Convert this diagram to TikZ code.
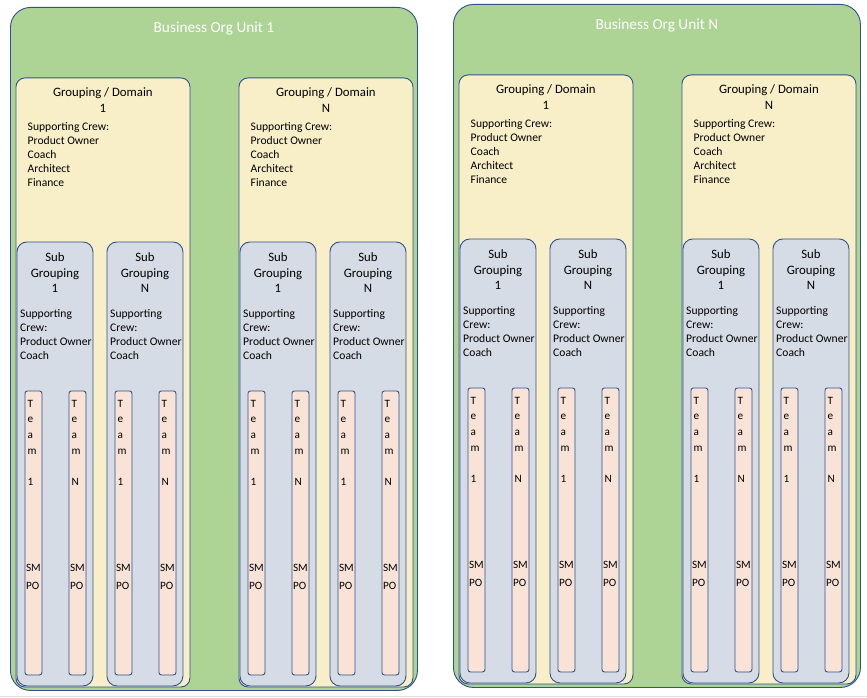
\documentclass[tikz,border=0pt]{standalone}
\usepackage{fontspec}
\setmainfont{Carlito}
\usetikzlibrary{positioning}

\definecolor{unitgreen}{HTML}{ADD395}
\definecolor{domyellow}{HTML}{F8EFC8}
\definecolor{subgrey}{HTML}{D6DCE5}
\definecolor{teampeach}{HTML}{F9E3D7}
\definecolor{edgeblue}{HTML}{2F528F}

\begin{document}
\begin{tikzpicture}[x=1pt, y=-1pt,
  box/.style={draw=edgeblue, line width=0.9pt, anchor=north west, inner sep=0pt},
  unitbox/.style={box, fill=unitgreen, rounded corners=20pt, minimum width=407pt, minimum height=683pt},
  dombox/.style={box, fill=domyellow, rounded corners=9pt, minimum width=174pt, minimum height=609pt},
  subbox/.style={box, fill=subgrey, rounded corners=10pt, minimum width=76pt, minimum height=444pt},
  teambox/.style={box, fill=teampeach, rounded corners=2.5pt, minimum width=17pt, minimum height=284pt},
  unittitle/.style={text=white, font=\fontsize{15.3}{18}\selectfont, inner sep=0pt},
  domhead/.style={font=\fontsize{12.8}{15.8}\selectfont, align=center, inner sep=0pt},
  crew/.style={font=\fontsize{11.6}{14}\selectfont, align=left, inner sep=0pt},
  teamtxt/.style={font=\fontsize{11.2}{15.6}\selectfont, align=left, inner sep=0pt},
  roles/.style={font=\fontsize{11.2}{18.3}\selectfont, align=left, inner sep=0pt}
]
\useasboundingbox (0,0) rectangle (867,698);
\draw[black!12, line width=1pt] (0,696.5) -- (867,696.5);

% business units, each with two domains, two sub groupings, two teams
\foreach \u/\ux/\uy/\ul in {1/10/7/1, 2/453/4/N} {
  \begin{scope}[shift={(\ux,\uy)}]
  \node[unitbox] (unit\u) at (0,0) {};
  \node[unittitle, below=25.7pt of unit\u.north, anchor=base] (ut\u) {Business Org Unit \ul};
  \foreach \g/\gx/\gl in {1/5.5/1, 2/228.5/N} {
    \begin{scope}[shift={(\gx,70.5)}]
    \node[dombox] (dom\u\g) at (0,0) {};
    \node[domhead, below=10pt of dom\u\g.north] (dh\u\g) {Grouping / Domain\\\gl};
    \node[crew, below right=44.7pt and 12pt of dom\u\g.north west] (dc\u\g)
      {Supporting Crew:\\Product Owner\\Coach\\Architect\\Finance};
    \foreach \s/\sx/\sl in {1/1/1, 2/91/N} {
      \begin{scope}[shift={(\sx,164)}]
      \node[subbox] (sub\u\g\s) at (0,0) {};
      \node[domhead, below=10.7pt of sub\u\g\s.north] (sh\u\g\s) {Sub\\Grouping\\\sl};
      \node[crew, below right=67.4pt and 3.5pt of sub\u\g\s.north west] (sc\u\g\s)
        {Supporting\\Crew:\\Product Owner\\Coach};
      \foreach \t/\tx/\tl in {1/8/1, 2/52/N} {
        \node[teambox] (team\u\g\s\t) at (\tx,149) {};
        \node[teamtxt, below right=9.5pt and 2.8pt of team\u\g\s\t.north west] (tn\u\g\s\t)
          {T\\e\\a\\m\\\\\tl};
        \node[roles, below right=173.6pt and 1.3pt of team\u\g\s\t.north west] (tr\u\g\s\t)
          {SM\\PO};
      }
      \end{scope}
    }
    \end{scope}
  }
  \end{scope}
}
\end{tikzpicture}
\end{document}
